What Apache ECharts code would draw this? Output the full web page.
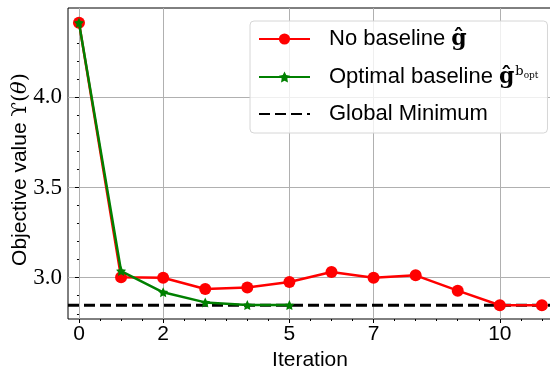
<!DOCTYPE html>
<html>
<head>
<meta charset="utf-8">
<script src="https://cdn.jsdelivr.net/npm/echarts@6/dist/echarts.min.js"></script>
<style>
html,body{margin:0;padding:0;background:#fff;}
#c{width:550px;height:366px;}
</style>
</head>
<body>
<div id="c"></div>
<script>
// ---- data ----
const iterations = [0, 1, 2, 3, 4, 5, 6, 7, 8, 9, 10, 11];
const noBaseline = [4.413, 3.002, 3.000, 2.937, 2.945, 2.976, 3.032, 3.000, 3.013, 2.928, 2.847, 2.847];
const optIterations = [0, 1, 2, 3, 4, 5];
const optimalBaseline = [4.413, 3.037, 2.919, 2.863, 2.848, 2.848];
const globalMinimum = 2.847;

const xTickValues = [0, 2, 5, 7, 10];
const xMinorTicks = [0.5, 1, 1.5, 2.5, 3, 3.5, 4, 4.5, 5.5, 6, 6.5, 7.5, 8, 8.5, 9, 9.5, 10.5, 11];
const yTickValues = [3.0, 3.5, 4.0];
const yMinorTicks = [2.8, 2.9, 3.1, 3.2, 3.3, 3.4, 3.6, 3.7, 3.8, 3.9, 4.1, 4.2, 4.3, 4.4];

const xMin = -0.261, xMax = 11.24;
const yMin = 2.771, yMax = 4.495;

const seriesNames = ['No baseline', 'Optimal baseline', 'Global Minimum'];

const star = 'path://M0,-10 L2.94,-4.05 9.51,-3.09 4.76,1.55 5.88,8.09 0,5 -5.88,8.09 -4.76,1.55 -9.51,-3.09 -2.94,-4.05Z';

const sans = 'Liberation Sans';
const serif = 'DejaVu Serif';

const chart = echarts.init(document.getElementById('c'), null, {renderer: 'canvas'});

const gridLine = {show: true, lineStyle: {color: '#b0b0b0', width: 1}};

chart.setOption({
  animation: false,
  backgroundColor: '#fff',
  grid: {left: 68, top: 8, right: -2, bottom: 47, show: true, borderColor: '#000', borderWidth: 1,
    backgroundColor: 'transparent', containLabel: false, outerBoundsMode: 'none'},
  legend: {
    orient: 'vertical',
    left: 250, top: 21,
    data: [
      {name: seriesNames[0]},
      {name: seriesNames[1]},
      {name: seriesNames[2], itemStyle: {opacity: 0}}
    ],
    itemWidth: 51, itemHeight: 14,
    itemGap: 15,
    padding: [7, 9, 8, 8],
    backgroundColor: 'rgba(255,255,255,0.8)',
    borderColor: '#d6d6d6', borderWidth: 1, borderRadius: 4,
    formatter: function (name) {
      if (name === 'No baseline') return '{t|No baseline }{g|ĝ}';
      if (name === 'Optimal baseline') return '{t|Optimal baseline }{g|ĝ}{s|b}{ss|opt}';
      return '{t|Global Minimum}';
    },
    textStyle: {
      color: '#000',
      rich: {
        t: {fontFamily: sans, fontSize: 22, color: '#000', padding: [0, 0, 0, 14], lineHeight: 24},
        g: {fontFamily: serif, fontSize: 22, fontWeight: 'bold', color: '#000', lineHeight: 24},
        s: {fontFamily: serif, fontSize: 13, color: '#000', verticalAlign: 'top', lineHeight: 24, padding: [0, 0, 0, 1]},
        ss: {fontFamily: serif, fontSize: 9, color: '#000', verticalAlign: 'top', lineHeight: 24, padding: [6, 0, 0, 0]}
      }
    }
  },
  xAxis: [{
    type: 'value', min: xMin, max: xMax,
    name: 'Iteration', nameLocation: 'middle', nameGap: 26,
    nameTextStyle: {fontFamily: sans, fontSize: 21, color: '#000'},
    axisLine: {show: false},
    axisTick: {show: true, length: 4, customValues: xTickValues, lineStyle: {color: '#000'}},
    axisLabel: {customValues: xTickValues, margin: 5, fontFamily: sans, fontSize: 21, color: '#000'},
    splitLine: gridLine
  }, {
    type: 'value', min: xMin, max: xMax, position: 'bottom',
    axisLine: {show: false},
    axisTick: {show: true, length: 2, customValues: xMinorTicks, lineStyle: {color: '#000'}},
    axisLabel: {show: false},
    splitLine: {show: false}
  }],
  yAxis: [{
    type: 'value', min: yMin, max: yMax,
    name: '{t|Objective value }{m|ϒ(}{i|θ}{m|)}', nameLocation: 'middle', nameGap: 37,
    nameMoveOverlap: false,
    nameTextStyle: {
      color: '#000',
      padding: [0, 12, 0, 0],
      rich: {
        t: {fontFamily: sans, fontSize: 21, color: '#000'},
        m: {fontFamily: serif, fontSize: 21, color: '#000'},
        i: {fontFamily: serif, fontSize: 21, fontStyle: 'italic', color: '#000'}
      }
    },
    axisLine: {show: false},
    axisTick: {show: true, length: 4, customValues: yTickValues, lineStyle: {color: '#000'}},
    axisLabel: {customValues: yTickValues, margin: 6, fontFamily: 'Liberation Serif', fontSize: 23, color: '#000',
      formatter: v => v.toFixed(1)},
    splitLine: gridLine
  }, {
    type: 'value', min: yMin, max: yMax, position: 'left',
    axisLine: {show: false},
    axisTick: {show: true, length: 2, customValues: yMinorTicks, lineStyle: {color: '#000'}},
    axisLabel: {show: false},
    splitLine: {show: false}
  }],
  series: [{
    name: 'Global Minimum', type: 'line',
    data: [[xMin, globalMinimum], [xMax, globalMinimum]],
    symbol: 'none',
    lineStyle: {color: '#000', width: 3, type: [11, 5]},
    itemStyle: {color: '#000'},
    z: 2
  }, {
    name: 'No baseline', type: 'line',
    data: iterations.map((x, i) => [x, noBaseline[i]]),
    symbol: 'circle', symbolSize: 12,
    lineStyle: {color: '#ff0000', width: 2.5},
    itemStyle: {color: '#ff0000'},
    z: 3
  }, {
    name: 'Optimal baseline', type: 'line',
    data: optIterations.map((x, i) => [x, optimalBaseline[i]]),
    symbol: star, symbolSize: 10,
    lineStyle: {color: '#008000', width: 2.5},
    itemStyle: {color: '#008000'},
    z: 4
  }]
});
</script>
</body>
</html>
